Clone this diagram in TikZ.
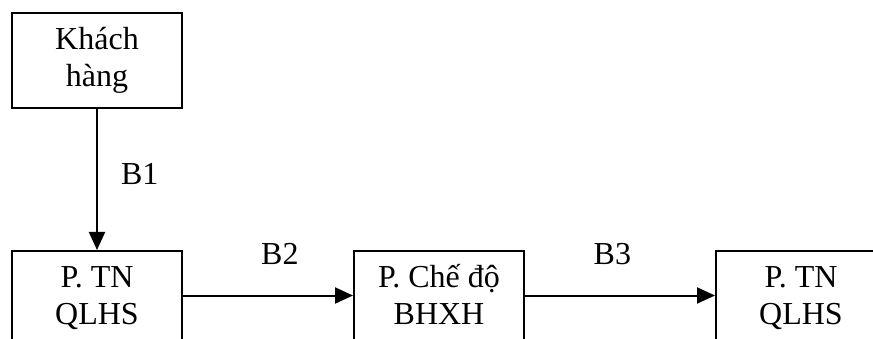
\documentclass[tikz,border=0pt]{standalone}
\usepackage{fontspec}
\setmainfont{Liberation Serif}
\usetikzlibrary{arrows.meta,positioning}

\begin{document}
\begin{tikzpicture}[x=1pt,y=-1pt,
	box/.style={draw, line width=2pt, minimum width=170pt, minimum height=95pt, align=center, inner sep=0pt, font=\fontsize{32}{37}\selectfont},
	lbl/.style={inner sep=0pt, font=\fontsize{32}{37}\selectfont}]
	\useasboundingbox (0,0) rectangle (873,339);
	\clip (0,0) rectangle (873,339);
	\node[box] (kh) at (97,60.5) {Khách\\hàng};
	\node[box] (tn1) [below=141pt of kh] {P. TN\\QLHS};
	\node[box] (chedo) [right=170pt of tn1] {\vphantom{P}\smash{P. Chế độ}\\BHXH\vphantom{Q}};
	\node[box] (tn2) [right=190pt of chedo] {P. TN\\QLHS};
	
	\path[-{Triangle[length=18pt,width=16pt]}, line width=2pt]
	(kh) edge node [lbl, right=23pt, yshift=6pt] {B1} (tn1)
	([yshift=3pt]tn1.east) edge node [lbl, above=30pt, pos=0.57] {B2} ([yshift=3pt]chedo.west)
	([yshift=3pt]chedo.east) edge node [lbl, above=30pt, pos=0.46] {B3} ([yshift=3pt]tn2.west);
\end{tikzpicture}
\end{document}
